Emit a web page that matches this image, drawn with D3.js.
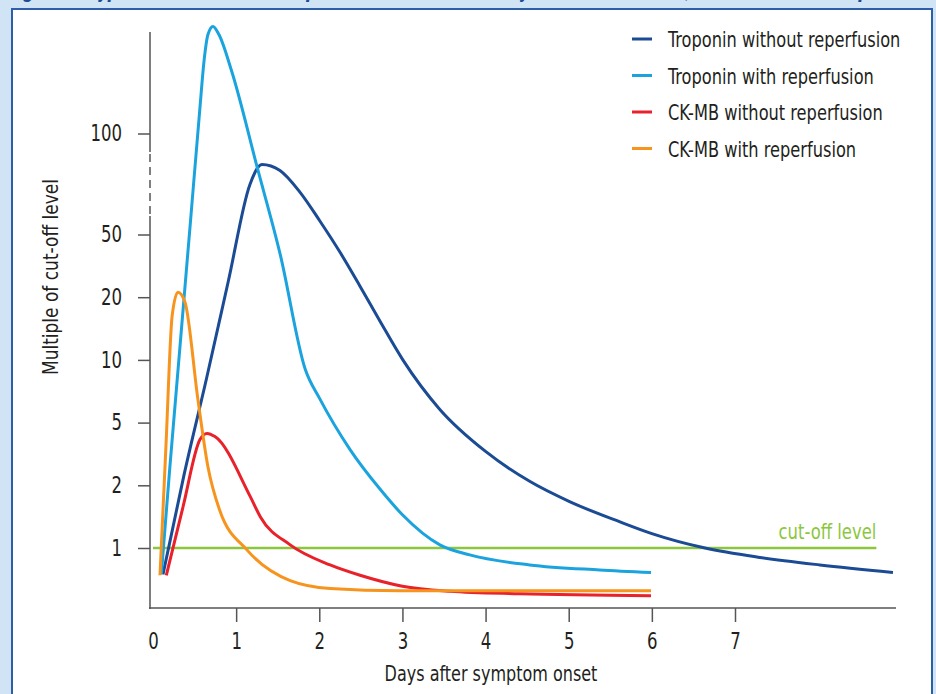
<!DOCTYPE html>
<html>
<head>
<meta charset="utf-8">
<script src="https://cdn.jsdelivr.net/npm/d3@7"></script>
<style>
  body { margin: 0; background: #d0e4f5; }
  text { font-family: "DejaVu Sans Condensed", "Liberation Sans Narrow", "Roboto Condensed", sans-serif; font-stretch: condensed; fill: #231f20; }
</style>
</head>
<body>
<svg class="chart" width="936" height="694"></svg>
<script>
// ---- data (days after onset, multiple of cut-off) ----
const seriesNames = ['Troponin without reperfusion', 'Troponin with reperfusion', 'CK-MB without reperfusion', 'CK-MB with reperfusion'];
const seriesColors = ['#1b4b94', '#1ba3de', '#e8212b', '#f7941d'];

const tropNoReperf = [
  [0.12, 0.58], [0.37, 2.44], [0.643, 8.5], [0.905, 27.5], [1.166, 74.8], [1.31, 84.7],
  [1.527, 81.7], [1.767, 71.0], [2.007, 56.7], [2.248, 41.6], [2.488, 25.4], [2.729, 16.2],
  [3.005, 10.0], [3.45, 6.05], [4.0, 3.62], [4.53, 2.19], [5.01, 1.74], [5.61, 1.42],
  [6.0, 1.23], [6.64, 1.0], [7.3, 0.85], [8.02, 0.73], [8.9, 0.61]
];
const tropReperf = [
  [0.1, 0.58], [0.204, 2.93], [0.325, 12.2], [0.445, 53.7], [0.565, 112.9], [0.613, 135.6],
  [0.661, 149], [0.721, 153], [0.793, 149], [0.94, 131.7], [1.26, 82.2], [1.53, 40.5],
  [1.83, 9.27], [2.01, 6.85], [2.37, 3.71], [2.73, 1.94], [3.0, 1.53], [3.45, 1.05],
  [3.81, 0.89], [4.53, 0.73], [5.37, 0.65], [5.99, 0.61]
];
const ckNoReperf = [
  [0.16, 0.565], [0.36, 1.65], [0.565, 4.19], [0.65, 4.48], [0.745, 4.33], [1.17, 1.82],
  [1.29, 1.5], [1.65, 1.05], [2.13, 0.73], [2.49, 0.565], [3.0, 0.39], [3.57, 0.31],
  [4.41, 0.27], [5.99, 0.24]
];
const ckReperf = [
  [0.084, 0.565], [0.156, 3.9], [0.23, 17], [0.3, 22.4], [0.385, 19.2], [0.54, 6.85],
  [0.66, 2.9], [0.8, 1.61], [1.13, 0.97], [1.65, 0.48], [2.13, 0.355], [2.97, 0.32], [5.99, 0.32]
];
const seriesData = [tropNoReperf, tropReperf, ckNoReperf, ckReperf];

const xTicks = [0, 1, 2, 3, 4, 5, 6, 7];
const yTicks = [1, 2, 5, 10, 20, 50, 100];
const cutoffValue = 1;
const cutoffEnd = 8.7;

const svg = d3.select('svg.chart');

// squeeze text horizontally to mimic the condensed typeface
const condense = (sel, k) => sel.each(function () {
    const t = d3.select(this);
    const tx = +t.attr('x') || 0, ty = +t.attr('y') || 0;
    const prev = t.attr('transform') || '';
    t.attr('x', 0).attr('y', 0)
        .attr('transform', `${prev} translate(${tx},${ty}) scale(${k},1)`);
});

// partly cropped title
svg.append('text')
    .attr('x', 8).attr('y', -3)
    .style('font-family', 'Roboto, sans-serif')
    .style('font-weight', 'bold').style('font-style', 'italic')
    .style('font-size', '22px').style('fill', '#1b4b94')
    .text('Figure 2: Typical time course of troponin and CK-MB after myocardial infarction, with and without reperfusion');

// white panel
svg.append('rect')
    .attr('x', 12).attr('y', 9).attr('width', 920).attr('height', 700)
    .attr('fill', 'white').attr('stroke', '#2f5ea8').attr('stroke-width', 2);

const x = d3.scaleLinear().domain([0, 7]).range([153, 735]);

// piecewise y scale: equal steps for 1..50, longer step to 100
const yBase = 548, yStep = 62.7;
const yRange = yTicks.map((t, i) => i < 6 ? yBase - i * yStep : yBase - 5 * yStep - 101);
const y = d3.scaleLinear().domain(yTicks).range(yRange);

const axisColor = '#555';

// y axis line with broken (dashed) part between 50 and 100
svg.append('line').attr('x1', 150).attr('x2', 150).attr('y1', 32).attr('y2', 152)
    .attr('stroke', axisColor).attr('stroke-width', 1.5);
svg.append('line').attr('x1', 150).attr('x2', 150).attr('y1', 154).attr('y2', 216)
    .attr('stroke', axisColor).attr('stroke-width', 1.5).attr('stroke-dasharray', '8,5');
svg.append('line').attr('x1', 150).attr('x2', 150).attr('y1', 216).attr('y2', 609)
    .attr('stroke', axisColor).attr('stroke-width', 1.5);

const yAxis = d3.axisLeft(y).tickValues(yTicks).tickSize(12).tickPadding(16).tickFormat(d3.format('d'));
const gy = svg.append('g').attr('transform', 'translate(150,0)').call(yAxis);
gy.select('.domain').remove();
gy.selectAll('.tick line').attr('stroke', axisColor).attr('stroke-width', 1.5);
gy.selectAll('.tick text').style('font-size', '23px').attr('fill', '#231f20');
condense(gy.selectAll('.tick text'), 0.8);

// x axis
svg.append('line').attr('x1', 149).attr('x2', 896).attr('y1', 608).attr('y2', 608)
    .attr('stroke', axisColor).attr('stroke-width', 1.5);
const xAxis = d3.axisBottom(x).tickValues(xTicks).tickSize(14).tickPadding(11).tickFormat(d3.format('d'));
const gx = svg.append('g').attr('transform', 'translate(0,608)').call(xAxis);
gx.select('.domain').remove();
gx.selectAll('.tick line').attr('stroke', d => d === 0 ? 'none' : axisColor).attr('stroke-width', 1.5);
gx.selectAll('.tick text').style('font-size', '23px').attr('fill', '#231f20');
condense(gx.selectAll('.tick text'), 0.8);

// axis titles
const xTitle = svg.append('text')
    .attr('x', 491).attr('y', 681).attr('text-anchor', 'middle')
    .style('font-size', '22px')
    .text('Days after symptom onset');
condense(xTitle, 0.81);
const yTitle = svg.append('text')
    .attr('transform', 'translate(58,277) rotate(-90)').attr('text-anchor', 'middle')
    .style('font-size', '22px')
    .text('Multiple of cut-off level');
condense(yTitle, 0.86);

// cut-off line
svg.append('line')
    .attr('x1', x(0)).attr('x2', x(cutoffEnd))
    .attr('y1', y(cutoffValue)).attr('y2', y(cutoffValue))
    .attr('stroke', '#8cc63f').attr('stroke-width', 2.5);
const cutLabel = svg.append('text')
    .attr('x', x(cutoffEnd)).attr('y', y(cutoffValue) - 9).attr('text-anchor', 'end')
    .style('font-size', '22px').style('fill', '#8cc63f')
    .text('cut-off level');
condense(cutLabel, 0.83);

// curves
const line = d3.line()
    .x(d => x(d[0]))
    .y(d => y(d[1]))
    .curve(d3.curveMonotoneX);

svg.selectAll('path.series')
    .data(seriesData)
    .enter().append('path')
    .attr('class', 'series')
    .attr('d', line)
    .attr('fill', 'none')
    .attr('stroke', (d, i) => seriesColors[i])
    .attr('stroke-width', 3);

// legend
const legend = svg.append('g').attr('transform', 'translate(632,39)');
const rows = legend.selectAll('g')
    .data(seriesNames)
    .enter().append('g')
    .attr('transform', (d, i) => `translate(0,${i * 36.5})`);
rows.append('line')
    .attr('x1', 0).attr('x2', 20)
    .attr('stroke', (d, i) => seriesColors[i]).attr('stroke-width', 3);
rows.append('text')
    .attr('x', 36).attr('y', 8)
    .style('font-size', '22px')
    .text(d => d);
condense(rows.selectAll('text'), 0.82);
</script>
</body>
</html>
